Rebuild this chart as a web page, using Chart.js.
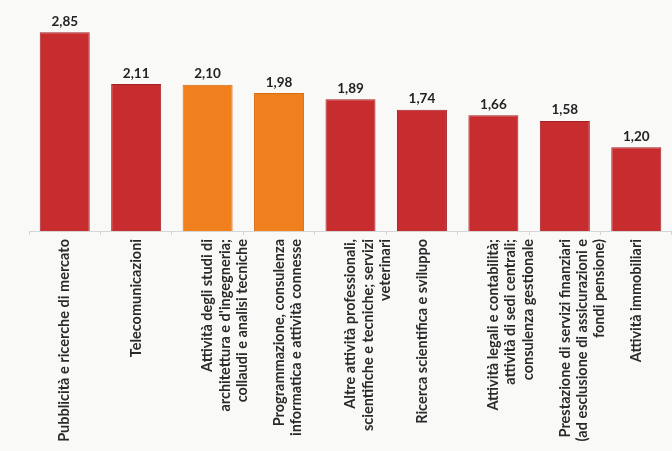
<!DOCTYPE html>
<html lang="it">
<head>
  <meta charset="UTF-8" />
  <title>Settori</title>
  <style>
    body {
      margin: 0;
      background-color: #f9f9f8;
      overflow: hidden;
    }
    canvas {
      display: block;
    }
  </style>
  <script src="https://cdn.jsdelivr.net/npm/chart.js"></script>
</head>
<body>
  <canvas id="grafico" width="672" height="451"></canvas>

  <script>
    const categorie = [
      "Pubblicità e ricerche di mercato",
      "Telecomunicazioni",
      ["Attività degli studi di", "architettura e d'ingegneria;", "collaudi e analisi tecniche"],
      ["Programmazione, consulenza", "informatica e attività connesse"],
      ["Altre attività professionali,", "scientifiche e tecniche; servizi", "veterinari"],
      "Ricerca scientifica e sviluppo",
      ["Attività legali e contabilità;", "attività di sedi centrali;", "consulenza gestionale"],
      ["Prestazione di servizi finanziari", "(ad esclusione di assicurazioni e", "fondi pensione)"],
      "Attività immobiliari"
    ];
    const valori = [2.85, 2.11, 2.10, 1.98, 1.89, 1.74, 1.66, 1.58, 1.20];
    // indici delle barre evidenziate in arancione
    const evidenziati = [2, 3];

    const rosso = "#c72d2e";
    const arancio = "#f07f1e";

    const fmt = (v) => v.toFixed(2).replace(".", ",");

    // etichette dei valori sopra le barre
    const etichetteValori = {
      id: "etichetteValori",
      afterDatasetsDraw(chart) {
        const ctx = chart.ctx;
        const meta = chart.getDatasetMeta(0);
        ctx.save();
        ctx.font = "bold 13.5px Lato, 'Liberation Sans', sans-serif";
        ctx.fillStyle = "#222";
        ctx.textAlign = "center";
        ctx.textBaseline = "bottom";
        meta.data.forEach((bar, i) => {
          ctx.fillText(fmt(valori[i]), bar.x, bar.y - 4);
        });
        ctx.restore();
      }
    };

    new Chart(document.getElementById("grafico"), {
      type: "bar",
      data: {
        labels: categorie,
        datasets: [
          {
            data: valori,
            backgroundColor: valori.map((_, i) => evidenziati.includes(i) ? arancio : rosso),
            borderColor: valori.map((_, i) => evidenziati.includes(i) ? "#d96a10" : "#a52024"),
            borderWidth: 1,
            categoryPercentage: 1,
            barPercentage: 0.7
          }
        ]
      },
      options: {
        responsive: false,
        animation: false,
        layout: { padding: { left: 29, right: 0, top: 1, bottom: 0 } },
        plugins: {
          legend: { display: false },
          tooltip: { enabled: false }
        },
        scales: {
          y: {
            display: false,
            min: 0,
            max: 3.3
          },
          x: {
            afterFit(scale) {
              scale.height = 220;
            },
            border: { color: "#d6d6d6" },
            grid: {
              offset: true,
              drawOnChartArea: false,
              tickLength: 4,
              color: "#d6d6d6"
            },
            ticks: {
              minRotation: 90,
              maxRotation: 90,
              autoSkip: false,
              padding: 4,
              color: "#2a2a2a",
              font: { family: "Lato, 'Liberation Sans', sans-serif", size: 14.5, weight: "bold", lineHeight: 1.2 }
            }
          }
        }
      },
      plugins: [etichetteValori]
    });
  </script>
</body>
</html>
